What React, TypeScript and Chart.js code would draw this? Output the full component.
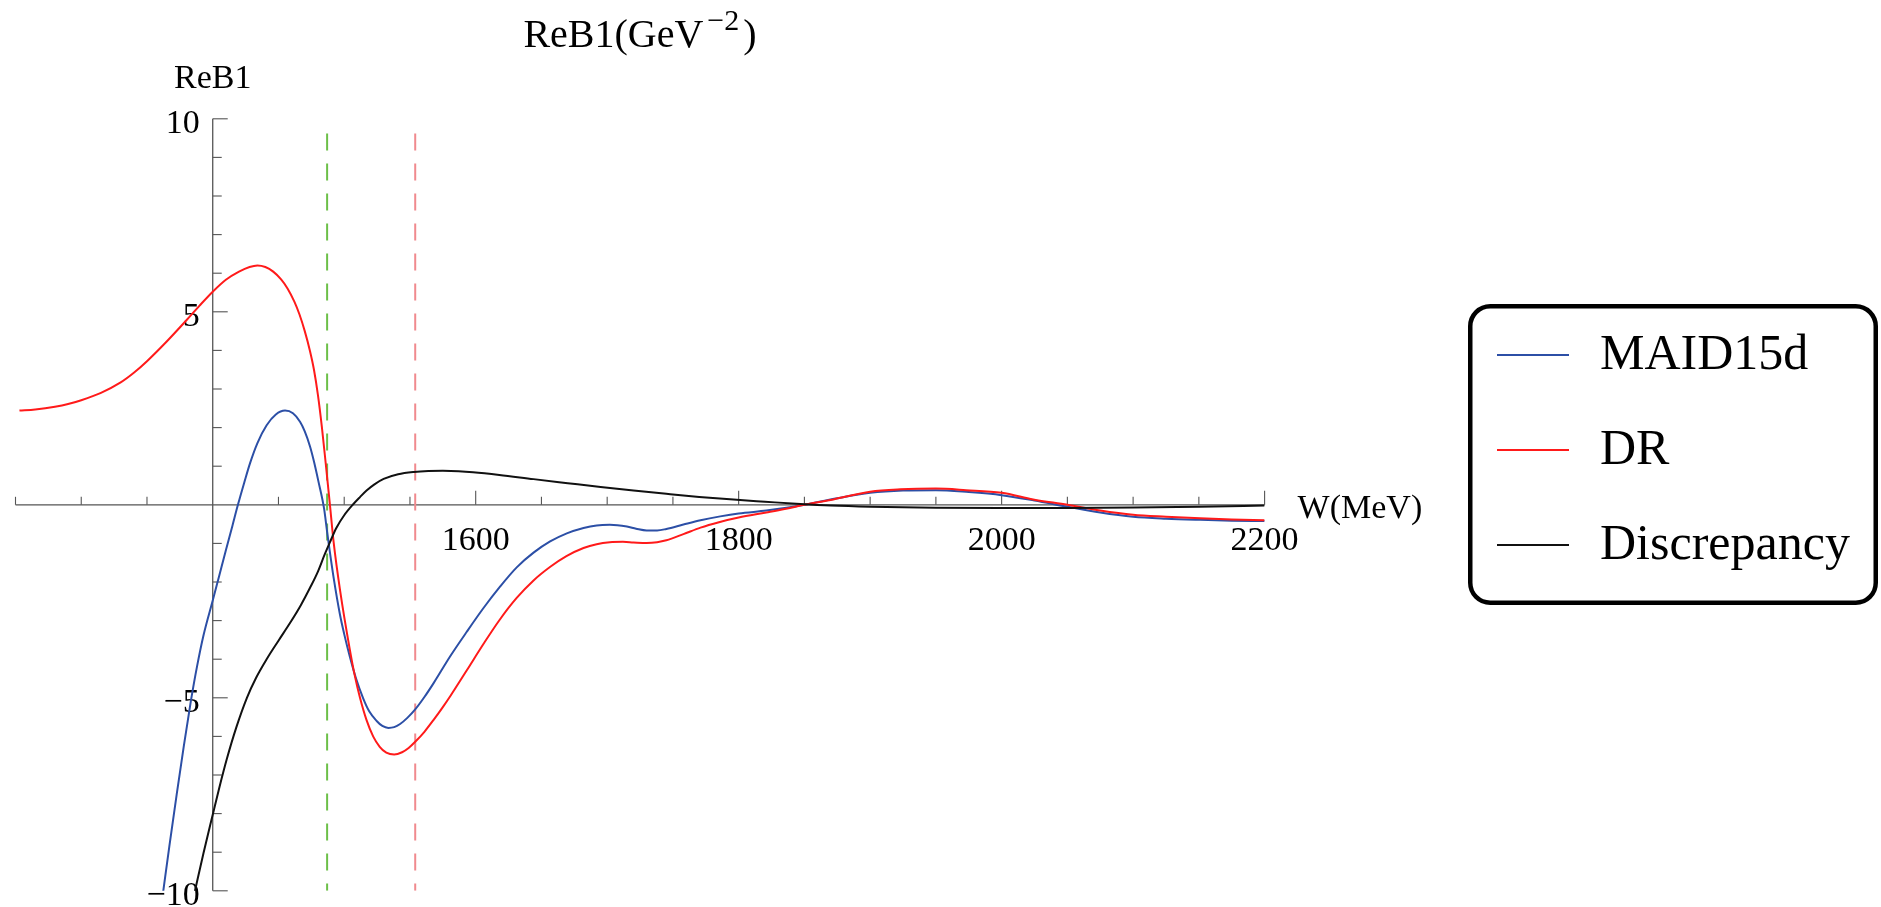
import React, { useEffect, useRef } from "react";
import { Chart, registerables } from "chart.js";

Chart.register(...registerables);

// ---------- data ----------
const xRange = [1250, 2200];
const yRange = [-10, 10];
const originW = 1400;

const xTicks = [1250, 1300, 1350, 1450, 1500, 1550, 1600, 1650, 1700, 1750, 1800, 1850, 1900, 1950, 2000, 2050, 2100, 2150, 2200];
const xTickLabels = [1600, 1800, 2000, 2200];
const yTicks = [-10, -9, -8, -7, -6, -5, -4, -3, -2, -1, 1, 2, 3, 4, 5, 6, 7, 8, 9, 10];
const yTickLabels = [-10, -5, 5, 10];

const titleMain = "ReB1(GeV";
const titleSup = "\u22122";
const titleEnd = ")";
const yAxisLabel = "ReB1";
const xAxisLabel = "W(MeV)";

const seriesNames = ["MAID15d", "DR", "Discrepancy"];

const maidW = [1359, 1362.4, 1367, 1372.6, 1378, 1383.3, 1388, 1393, 1400, 1405, 1410, 1415, 1419, 1424, 1428.4, 1434, 1441, 1448, 1455, 1461, 1466.4, 1470, 1474, 1477, 1480.3, 1484.7, 1487, 1489, 1492, 1496.8, 1500, 1504.4, 1509, 1514.5, 1519, 1524.7, 1529, 1533.6, 1538, 1542.5, 1548, 1554, 1561, 1568, 1580.5, 1593.2, 1605.8, 1618.5, 1631.2, 1644, 1656.6, 1669.3, 1682, 1692, 1702, 1715, 1722, 1730, 1738, 1745, 1758, 1771, 1786, 1800, 1821, 1835, 1850, 1875, 1900, 1925, 1950, 1975, 2000, 2025, 2050, 2075, 2100, 2125, 2151, 2175, 2200];
const maidV = [-10.85, -10.0, -8.85, -7.5, -6.25, -5.1, -4.2, -3.38, -2.48, -1.83, -1.18, -0.54, -0.02, 0.58, 1.08, 1.6, 2.06, 2.34, 2.44, 2.37, 2.15, 1.9, 1.51, 1.12, 0.62, -0.1, -0.7, -1.2, -1.9, -2.85, -3.35, -3.95, -4.5, -5.02, -5.35, -5.6, -5.73, -5.78, -5.76, -5.68, -5.52, -5.3, -4.98, -4.62, -3.93, -3.29, -2.68, -2.12, -1.62, -1.24, -0.95, -0.74, -0.6, -0.535, -0.52, -0.565, -0.62, -0.665, -0.665, -0.625, -0.51, -0.4, -0.3, -0.225, -0.15, -0.085, 0.0, 0.17, 0.31, 0.37, 0.38, 0.33, 0.25, 0.11, -0.05, -0.2, -0.31, -0.36, -0.39, -0.41, -0.42];

const drW = [1253, 1265, 1280, 1290, 1300, 1315, 1330, 1340, 1350, 1365, 1380, 1390, 1400, 1410, 1420, 1428, 1434, 1440, 1446, 1452, 1457, 1462, 1466, 1470, 1474, 1477, 1480, 1483, 1486, 1489, 1492, 1497, 1504, 1508, 1512, 1517, 1522, 1527, 1532, 1538, 1544, 1549, 1554, 1561, 1568, 1575, 1581, 1593, 1606, 1618, 1631, 1644, 1657, 1669, 1682, 1692, 1702, 1712, 1720, 1730, 1738, 1745, 1758, 1771, 1785, 1800, 1821, 1835, 1850, 1872, 1900, 1923, 1950, 1973, 2000, 2024, 2050, 2075, 2100, 2125, 2151, 2175, 2200];
const drV = [2.44, 2.47, 2.54, 2.61, 2.71, 2.9, 3.17, 3.42, 3.72, 4.23, 4.78, 5.16, 5.52, 5.83, 6.04, 6.16, 6.2, 6.16, 6.04, 5.84, 5.6, 5.27, 4.93, 4.5, 3.98, 3.5, 2.85, 2.02, 1.05, 0.05, -0.98, -2.25, -3.7, -4.42, -5.0, -5.58, -6.0, -6.27, -6.42, -6.47, -6.41, -6.3, -6.14, -5.88, -5.57, -5.24, -4.94, -4.3, -3.6, -2.99, -2.42, -1.96, -1.6, -1.33, -1.12, -1.02, -0.97, -0.96, -0.975, -0.99, -0.97, -0.92, -0.76, -0.59, -0.45, -0.33, -0.2, -0.11, 0.0, 0.14, 0.34, 0.4, 0.42, 0.38, 0.31, 0.14, 0.0, -0.15, -0.26, -0.31, -0.35, -0.38, -0.4];

const discW = [1384, 1386.5, 1393, 1400, 1405, 1410.6, 1418, 1426, 1433, 1441, 1450, 1459, 1467, 1474, 1480, 1485, 1489, 1494, 1500, 1507, 1512, 1517, 1523, 1530, 1541, 1553, 1564, 1575, 1587, 1598, 1618, 1644, 1670, 1695, 1720, 1745, 1770, 1796, 1820, 1847, 1870, 1900, 1950, 2000, 2050, 2100, 2150, 2200];
const discV = [-10.38, -10.0, -9.02, -8.03, -7.33, -6.6, -5.76, -5.0, -4.48, -4.0, -3.52, -3.05, -2.6, -2.15, -1.73, -1.3, -0.98, -0.6, -0.27, 0.02, 0.2, 0.37, 0.53, 0.67, 0.79, 0.85, 0.875, 0.88, 0.87, 0.845, 0.775, 0.665, 0.56, 0.46, 0.37, 0.285, 0.205, 0.135, 0.08, 0.02, -0.02, -0.05, -0.075, -0.085, -0.08, -0.07, -0.05, -0.02];

const etaThresholdW = 1487;
const secondLineW = 1554;
const dashedTop = 9.62;

// ---------- styles ----------
const blue = "#2c4fa6";
const red = "#ff1a1a";
const black = "#111111";
const green = "#6cbf48";
const pink = "#f08a8e";
const axisColor = "#555555";
const serif = '"Liberation Serif", "Times New Roman", serif';

const toPts = (w: number[], v: number[]) => w.map((x, i) => ({ x, y: v[i] }));

const fmt = (t: number) => (t < 0 ? "\u2212" + Math.abs(t) : String(t));

const axesPlugin = {
  id: "mmaAxes",
  beforeDatasetsDraw(chart: any) {
    const { ctx } = chart;
    const xs = chart.scales.x;
    const ys = chart.scales.y;
    const x0 = xs.getPixelForValue(originW);
    const y0 = ys.getPixelForValue(0);
    ctx.save();
    ctx.strokeStyle = axisColor;
    ctx.lineWidth = 1.3;
    ctx.beginPath();
    ctx.moveTo(xs.getPixelForValue(xRange[0]), y0);
    ctx.lineTo(xs.getPixelForValue(xRange[1]), y0);
    ctx.stroke();
    ctx.beginPath();
    ctx.moveTo(x0, ys.getPixelForValue(yRange[0]));
    ctx.lineTo(x0, ys.getPixelForValue(yRange[1]));
    ctx.stroke();
    ctx.lineWidth = 1.1;
    for (const t of xTicks) {
      const px = xs.getPixelForValue(t);
      const len = xTickLabels.includes(t) ? 14 : 8;
      ctx.beginPath();
      ctx.moveTo(px, y0);
      ctx.lineTo(px, y0 - len);
      ctx.stroke();
    }
    for (const t of yTicks) {
      const py = ys.getPixelForValue(t);
      const len = yTickLabels.includes(t) ? 15 : 9;
      ctx.beginPath();
      ctx.moveTo(x0, py);
      ctx.lineTo(x0 + len, py);
      ctx.stroke();
    }
    ctx.fillStyle = "#000";
    ctx.font = "34px " + serif;
    ctx.textBaseline = "alphabetic";
    ctx.textAlign = "center";
    for (const t of xTickLabels) ctx.fillText(String(t), xs.getPixelForValue(t), y0 + 45);
    ctx.textAlign = "right";
    for (const t of yTickLabels) ctx.fillText(fmt(t), x0 - 13, ys.getPixelForValue(t) + 14);
    ctx.textAlign = "left";
    ctx.fillText(xAxisLabel, xs.getPixelForValue(xRange[1]) + 33, y0 + 13.5);
    ctx.textAlign = "center";
    ctx.fillText(yAxisLabel, x0, ys.getPixelForValue(yRange[1]) - 31);

    // title
    ctx.textAlign = "left";
    ctx.font = "40px " + serif;
    const w1 = ctx.measureText(titleMain).width;
    const w3 = ctx.measureText(titleEnd).width;
    ctx.font = "30px " + serif;
    const w2 = ctx.measureText(titleSup).width;
    const total = w1 + w2 + w3 + 8;
    let tx = 640 - total / 2;
    ctx.font = "40px " + serif;
    ctx.fillText(titleMain, tx, 47);
    tx += w1 + 4;
    ctx.font = "30px " + serif;
    ctx.fillText(titleSup, tx, 30);
    tx += w2 + 4;
    ctx.font = "40px " + serif;
    ctx.fillText(titleEnd, tx, 47);
    ctx.restore();
  },
  afterDraw(chart: any) {
    const { ctx } = chart;
    ctx.save();
    const bx = 1470.25, by = 306.25, bw = 405.5, bh = 296.5, r = 20;
    ctx.lineWidth = 4.5;
    ctx.strokeStyle = "#000";
    ctx.beginPath();
    ctx.roundRect(bx, by, bw, bh, r);
    ctx.stroke();
    const colors = [blue, red, black];
    const rows = [355, 450, 545];
    ctx.font = "50px " + serif;
    ctx.fillStyle = "#000";
    ctx.textAlign = "left";
    ctx.textBaseline = "alphabetic";
    for (let i = 0; i < seriesNames.length; i++) {
      ctx.strokeStyle = colors[i];
      ctx.lineWidth = 2;
      ctx.beginPath();
      ctx.moveTo(1497, rows[i]);
      ctx.lineTo(1569, rows[i]);
      ctx.stroke();
      ctx.fillText(seriesNames[i], 1600, rows[i] + 14.3);
    }
    ctx.restore();
  },
};

export default function App() {
  const ref = useRef<HTMLCanvasElement | null>(null);
  useEffect(() => {
    document.body.style.margin = "0";
    const canvas = ref.current;
    if (!canvas) return;
    const curve = (label: string, pts: any[], color: string, order: number) => ({
      label,
      data: pts,
      borderColor: color,
      borderWidth: 2,
      pointRadius: 0,
      fill: false,
      cubicInterpolationMode: "monotone" as const,
      tension: 0.4,
      order,
    });
    const vline = (w: number, color: string) => ({
      label: "",
      data: [
        { x: w, y: dashedTop },
        { x: w, y: yRange[0] },
      ],
      borderColor: color,
      borderWidth: 2,
      borderDash: [17, 13],
      pointRadius: 0,
      fill: false,
      tension: 0,
      order: 10,
    });
    const chart = new Chart(canvas, {
      type: "line",
      data: {
        datasets: [
          curve(seriesNames[0], toPts(maidW, maidV), blue, 3),
          curve(seriesNames[1], toPts(drW, drV), red, 2),
          curve(seriesNames[2], toPts(discW, discV), black, 1),
          vline(etaThresholdW, green),
          vline(secondLineW, pink),
        ] as any,
      },
      options: {
        animation: false,
        responsive: false,
        devicePixelRatio: 1,
        layout: { padding: { left: 15.5, right: 616.4, top: 118.8, bottom: 16.2 } },
        scales: {
          x: { type: "linear", min: xRange[0], max: xRange[1], display: false },
          y: { type: "linear", min: yRange[0], max: yRange[1], display: false },
        },
        plugins: {
          legend: { display: false },
          tooltip: { enabled: false },
          title: { display: false },
        },
      },
      plugins: [axesPlugin],
    });
    return () => chart.destroy();
  }, []);
  return (
    <div style={{ width: 1881, height: 907, background: "#fff" }}>
      <canvas ref={ref} width={1881} height={907} style={{ display: "block" }} />
    </div>
  );
}
